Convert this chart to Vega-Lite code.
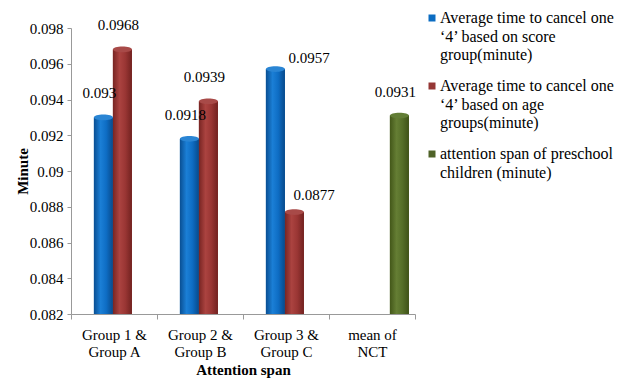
{
  "$schema": "https://vega.github.io/schema/vega-lite/v6.json",
  "width": 344,
  "height": 286,
  "autosize": {"type": "none"},
  "padding": {"left": 71, "top": 28, "right": 211, "bottom": 64},
  "background": "white",
  "config": {
    "font": "Times New Roman, Liberation Serif, serif",
    "view": {"stroke": null},
    "text": {"font": "Times New Roman, Liberation Serif, serif"},
    "legend": {"labelFont": "Times New Roman, Liberation Serif, serif"},
    "axis": {"labelFont": "Times New Roman, Liberation Serif, serif", "titleFont": "Times New Roman, Liberation Serif, serif", "domainColor": "#999999", "tickColor": "#999999", "labelColor": "#000000", "titleColor": "#000000", "labelFontSize": 15, "titleFontSize": 15, "titleFontWeight": "bold", "grid": false}
  },
  "data": {
    "values": [
      {"group": "Group 1 & Group A", "series": "score", "value": 0.093},
      {"group": "Group 1 & Group A", "series": "age", "value": 0.0968},
      {"group": "Group 2 & Group B", "series": "score", "value": 0.0918},
      {"group": "Group 2 & Group B", "series": "age", "value": 0.0939},
      {"group": "Group 3 & Group C", "series": "score", "value": 0.0957},
      {"group": "Group 3 & Group C", "series": "age", "value": 0.0877},
      {"group": "mean of NCT", "series": "preschool", "value": 0.0931}
    ]
  },
  "encoding": {
    "x": {
      "field": "group",
      "type": "nominal",
      "sort": null,
      "title": "Attention span",
      "scale": {"paddingInner": 0, "paddingOuter": 0},
      "axis": {
        "labelAngle": 0,
        "tickBand": "extent",
        "tickSize": 5,
        "labelPadding": 8,
        "labelBaseline": "top",
        "labelLineHeight": 17,
        "titlePadding": 3,
        "labelExpr": "datum.label == 'mean of NCT' ? ['mean of', 'NCT'] : indexof(datum.label + '', '&') > 0 ? [slice(datum.label, 0, indexof(datum.label, '&') + 1), slice(datum.label, indexof(datum.label, '&') + 2)] : ''"
      }
    },
    "xOffset": {
      "field": "series",
      "type": "nominal",
      "sort": ["score", "age", "preschool"],
      "scale": {"domain": ["score", "age", "preschool"], "paddingInner": 0, "paddingOuter": 0.763, "align": 0.79}
    },
    "y": {
      "field": "value",
      "type": "quantitative",
      "title": "Minute",
      "scale": {"domain": [0.082, 0.098], "zero": false, "nice": false},
      "axis": {
        "values": [0.082, 0.084, 0.086, 0.088, 0.09, 0.092, 0.094, 0.096, 0.098],
        "format": ".3~f",
        "tickSize": 4,
        "labelPadding": 4,
        "titleX": -49,
        "titleY": 143,
        "titleAngle": -90,
        "titleAlign": "center",
        "titleBaseline": "middle"
      }
    }
  },
  "layer": [
    {
      "mark": {"type": "bar"},
      "encoding": {
        "y2": {"datum": 0.082},
        "color": {
          "field": "series",
          "type": "nominal",
          "sort": ["score", "age", "preschool"],
          "scale": {"domain": ["score", "age", "preschool"], "range": ["#0b6cc2", "#953735", "#4f6228"]},
          "legend": {
            "orient": "none",
            "legendX": 353,
            "legendY": -18,
            "title": null,
            "symbolType": "square",
            "symbolSize": 49,
            "symbolStrokeWidth": 0,
            "labelFontSize": 16,
            "labelOffset": 0,
            "labelLimit": 300,
            "labelBaseline": "alphabetic",
            "rowPadding": 15,
            "labelExpr": "datum.value == 'score' ? ['Average time to cancel one', '‘4’ based on score', 'group(minute)'] : datum.value == 'age' ? ['Average time to cancel one', '‘4’ based on age', 'groups(minute)'] : ['attention span of preschool', 'children (minute)']",
            "encode": {"labels": {"update": {"lineHeight": {"value": 18.5}, "dy": {"value": 5}, "font": {"value": "Times New Roman, Liberation Serif, serif"}}}}
          }
        }
      }
    },
    {
      "transform": [{"filter": "datum.series == 'score'"}],
      "mark": {"type": "bar", "fill": {"gradient": "linear", "x1": 0, "x2": 1, "y1": 0, "y2": 0, "stops": [{"offset": 0, "color": "#094f93"}, {"offset": 0.35, "color": "#1b7fd6"}, {"offset": 0.65, "color": "#0e6dc4"}, {"offset": 1, "color": "#084a8b"}]}},
      "encoding": {"y2": {"datum": 0.082}}
    },
    {
      "transform": [{"filter": "datum.series == 'age'"}],
      "mark": {"type": "bar", "fill": {"gradient": "linear", "x1": 0, "x2": 1, "y1": 0, "y2": 0, "stops": [{"offset": 0, "color": "#782523"}, {"offset": 0.35, "color": "#ab4340"}, {"offset": 0.65, "color": "#9a3634"}, {"offset": 1, "color": "#722220"}]}},
      "encoding": {"y2": {"datum": 0.082}}
    },
    {
      "transform": [{"filter": "datum.series == 'preschool'"}],
      "mark": {"type": "bar", "fill": {"gradient": "linear", "x1": 0, "x2": 1, "y1": 0, "y2": 0, "stops": [{"offset": 0, "color": "#435719"}, {"offset": 0.35, "color": "#657e34"}, {"offset": 0.65, "color": "#566f29"}, {"offset": 1, "color": "#3f5218"}]}},
      "encoding": {"y2": {"datum": 0.082}}
    },
    {
      "mark": {"type": "point", "filled": true, "opacity": 1, "size": 361, "shape": "M-1,0A1,0.3,0,1,0,1,0A1,0.3,0,1,0,-1,0Z"},
      "encoding": {
        "color": {
          "field": "series",
          "type": "nominal",
          "legend": null,
          "scale": {"domain": ["score", "age", "preschool"], "range": ["#0b6cc2", "#953735", "#4f6228"]}
        },
        "fill": {
          "field": "series",
          "type": "nominal",
          "legend": null,
          "scale": {"domain": ["score", "age", "preschool"], "range": ["#2a85d4", "#a84a48", "#627d35"]}
        }
      }
    },
    {
      "transform": [{"filter": "datum.group != 'Group 3 & Group C'"}],
      "mark": {"type": "text", "fontSize": 15, "dx": -4, "dy": -24, "color": "#000000"},
      "encoding": {"text": {"field": "value", "type": "quantitative", "format": ".4~f"}}
    },
    {
      "transform": [{"filter": "datum.group == 'Group 3 & Group C' && datum.series == 'score'"}],
      "mark": {"type": "text", "fontSize": 15, "align": "left", "dx": 13, "dy": -11, "color": "#000000"},
      "encoding": {"text": {"field": "value", "type": "quantitative", "format": ".4~f"}}
    },
    {
      "transform": [{"filter": "datum.group == 'Group 3 & Group C' && datum.series == 'age'"}],
      "mark": {"type": "text", "fontSize": 15, "align": "left", "dx": -1, "dy": -17, "color": "#000000"},
      "encoding": {"text": {"field": "value", "type": "quantitative", "format": ".4~f"}}
    }
  ]
}
